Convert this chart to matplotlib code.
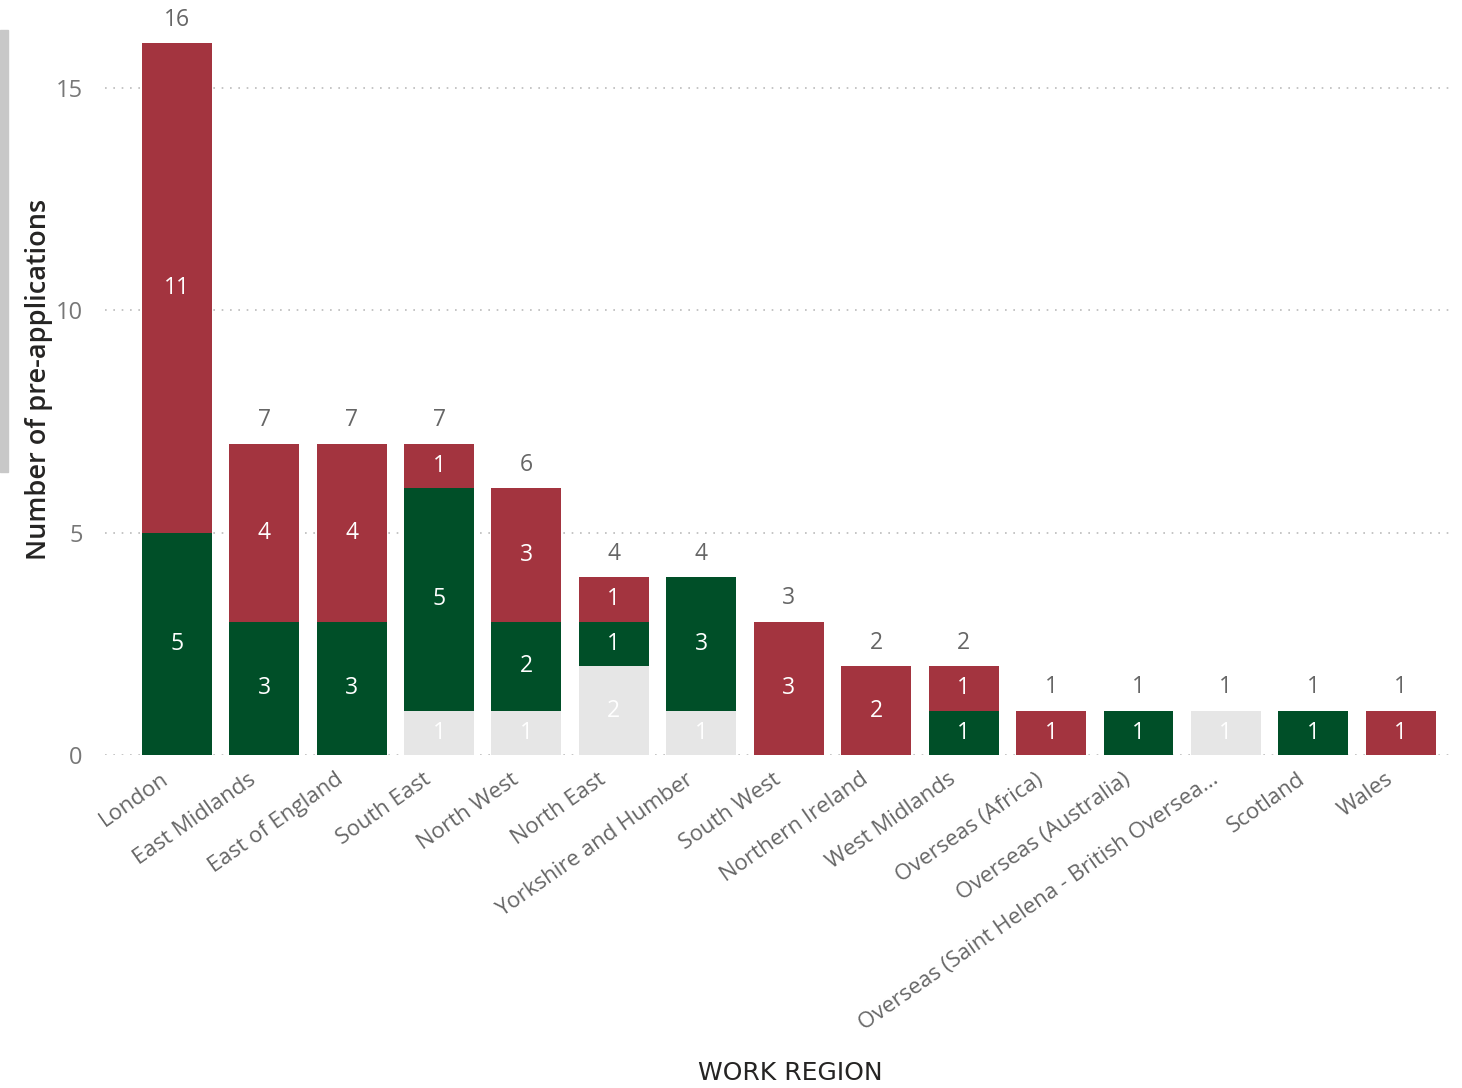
import numpy as np
import matplotlib
matplotlib.use("Agg")
import matplotlib.pyplot as plt
from matplotlib.patches import Rectangle
from matplotlib.transforms import ScaledTranslation

# Pre-applications per work region, split into three stacked groups
regions = ["London", "East Midlands", "East of England", "South East", "North West",
           "North East", "Yorkshire and Humber", "South West", "Northern Ireland",
           "West Midlands", "Overseas (Africa)", "Overseas (Australia)",
           "Overseas (Saint Helena - British Oversea...", "Scotland", "Wales"]
grey_vals = [0, 0, 0, 1, 1, 2, 1, 0, 0, 0, 0, 0, 1, 0, 0]
green_vals = [5, 3, 3, 5, 2, 1, 3, 0, 0, 1, 0, 1, 0, 1, 0]
red_vals = [11, 4, 4, 1, 3, 1, 0, 3, 2, 1, 1, 0, 0, 0, 1]
y_ticks = [0, 5, 10, 15]

GREY = "#E6E6E6"
GREEN = "#004F28"
RED = "#A3343F"

plt.rcParams["font.family"] = ["Open Sans", "DejaVu Sans"]

fig = plt.figure(figsize=(14.62, 10.88), dpi=100)
ax = fig.add_axes([105 / 1462, 1 - 755 / 1088, (1455 - 105) / 1462, (755 - 3) / 1088])

x = np.arange(len(regions))
grey = np.array(grey_vals)
green = np.array(green_vals)
red = np.array(red_vals)
totals = grey + green + red
w = 0.8

for vals, base, col in [(grey, 0, GREY), (green, grey, GREEN), (red, grey + green, RED)]:
    ax.bar(x, vals, w, bottom=base, color=col, zorder=3)
    for xi, v, b in zip(x, vals, np.broadcast_to(base, vals.shape)):
        if v > 0:
            ax.text(xi, b + v / 2, str(v), ha="center", va="center",
                    color="white", fontsize=16.5, zorder=4)

for xi, t in zip(x, totals):
    ax.text(xi, t + 0.25, str(t), ha="center", va="bottom", color="#666666", fontsize=16.5)

ax.set_xlim(-0.82, 14.62)
ax.set_ylim(0, 16.9)
ax.set_yticks(y_ticks)
ax.set_yticklabels([str(v) for v in y_ticks], color="#777777", fontsize=17)
ax.yaxis.grid(True, linestyle=(0, (1, 4)), color="#BBBBBB", linewidth=1.2, zorder=0)
ax.tick_params(axis="x", length=0, pad=10)
ax.tick_params(axis="y", length=0, pad=16)

ax.set_xticks(x)
ax.set_xticklabels(regions, rotation=35, ha="right", va="top", rotation_mode="anchor",
                   color="#666666", fontsize=16)
shift = ScaledTranslation(-16 / 100, 0, fig.dpi_scale_trans)
for lbl in ax.get_xticklabels():
    lbl.set_transform(lbl.get_transform() + shift)

for s in ax.spines.values():
    s.set_visible(False)

ax.set_ylabel("Number of pre-applications", fontsize=19.5, color="#252423",
              fontweight="semibold", labelpad=2)
fig.text(790 / 1462, 1 - 1073 / 1088, "WORK REGION", ha="center", va="center",
         fontsize=18, color="#252423", family=["DejaVu Sans"])

# thin grey strip at the left edge
fig.patches.append(Rectangle((0, 1 - 472 / 1088), 8 / 1462, 442 / 1088,
                             transform=fig.transFigure, color="#C8C8C8", zorder=0))

fig.savefig("out.png", dpi=100)
